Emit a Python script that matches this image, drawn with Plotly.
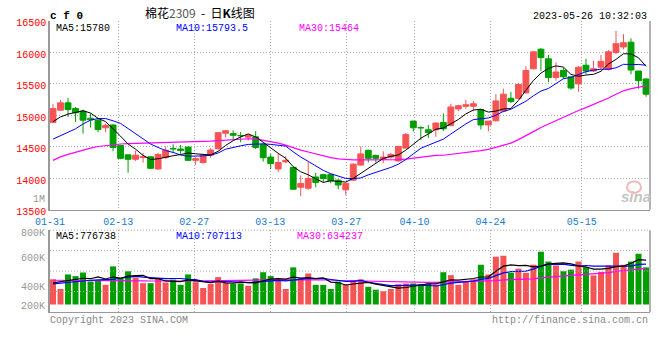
import plotly.graph_objects as go

# ---------------- data ----------------
# trading-day index 0..79  (2023-01-31 .. 2023-05-26)
opens = [14888, 15082, 15199, 15108, 15067, 14955, 14924, 14802, 14847, 14521,
         14373, 14302, 14330, 14342, 14149, 14327, 14475, 14465, 14496, 14286,
         14250, 14368, 14470, 14715, 14710, 14680, 14654, 14659, 14541, 14337,
         14149, 14261, 14174, 13858, 13843, 14021, 14057, 14062, 13970, 13817,
         13970, 14210, 14445, 14363, 14302, 14337, 14276, 14480, 14909, 14805,
         14771, 14771, 14888, 14837, 15102, 15143, 15143, 15092, 14847, 14914,
         15067, 15271, 15271, 15357, 15740, 16051, 15898, 15602, 15714, 15612,
         15500, 15796, 15704, 15765, 15730, 16000, 16087, 16163, 15704, 15577]
highs = [15184, 15245, 15276, 15133, 15092, 15031, 14949, 14868, 14858, 14531,
         14373, 14439, 14404, 14342, 14404, 14506, 14541, 14531, 14506, 14337,
         14385, 14480, 14735, 14766, 14761, 14735, 14705, 14750, 14557, 14388,
         14388, 14353, 14174, 14047, 14261, 14087, 14072, 14072, 13985, 13935,
         14240, 14506, 14455, 14378, 14429, 14404, 14516, 14720, 14909, 14827,
         14847, 14888, 15031, 15184, 15169, 15245, 15230, 15102, 14909, 15337,
         15424, 15373, 15516, 15781, 16010, 16071, 15959, 15842, 15755, 15612,
         15781, 15898, 15867, 15959, 16036, 16342, 16291, 16224, 15704, 15592]
lows = [14880, 15075, 14975, 14898, 14710, 14807, 14730, 14735, 14429, 14302,
        14087, 14276, 14250, 14149, 14133, 14312, 14404, 14390, 14276, 14210,
        14235, 14327, 14455, 14650, 14623, 14572, 14598, 14465, 14266, 14149,
        14098, 14240, 13817, 13715, 13817, 13858, 13934, 13919, 13827, 13730,
        13960, 14200, 14250, 14250, 14240, 14312, 14266, 14470, 14745, 14608,
        14643, 14659, 14750, 14827, 15067, 15102, 15067, 14776, 14745, 14903,
        15051, 15194, 15255, 15347, 15730, 15704, 15526, 15551, 15577, 15408,
        15373, 15653, 15689, 15730, 15714, 15975, 16051, 15653, 15424, 15296]
closes = [15108, 15199, 15092, 15041, 14924, 14929, 14776, 14837, 14490, 14317,
          14302, 14368, 14345, 14159, 14378, 14445, 14465, 14440, 14286, 14312,
          14370, 14450, 14725, 14756, 14684, 14674, 14684, 14490, 14327, 14235,
          14251, 14286, 13827, 13919, 13996, 13934, 13996, 13960, 13894, 13919,
          14225, 14388, 14317, 14317, 14337, 14378, 14506, 14694, 14802, 14800,
          14725, 14878, 14786, 15133, 15153, 15169, 15184, 14847, 14909, 15230,
          15337, 15220, 15490, 15714, 16010, 15918, 15602, 15689, 15612, 15434,
          15765, 15704, 15740, 15857, 16010, 16138, 16153, 15720, 15551, 15337]
volumes = [442, 272, 527, 498, 561, 403, 430, 345, 668, 459,
           583, 471, 374, 374, 459, 386, 437, 345, 527, 391,
           289, 362, 481, 379, 362, 369, 328, 459, 566, 498,
           425, 272, 651, 459, 544, 345, 345, 272, 403, 345,
           430, 442, 311, 260, 233, 272, 357, 369, 369, 357,
           369, 345, 566, 515, 345, 413, 442, 697, 527, 838,
           855, 556, 629, 556, 697, 923, 753, 685, 583, 612,
           753, 651, 510, 573, 685, 906, 697, 753, 889, 651]  # thousand lots

# moving-average values before enough in-window history exists
ma5_lead = [14900, 14975, 15020, 15043]
ma10_lead = [14623, 14674, 14725, 14786, 14863, 14924, 14949, 14949, 14914]
ma30_lead = [14285, 14340, 14380, 14415, 14449, 14480, 14505, 14520, 14535, 14545,
             14551, 14554, 14556, 14560, 14563, 14566, 14570, 14575, 14578, 14582,
             14585, 14590, 14600, 14608, 14615, 14620, 14628, 14625, 14605]
vma5_lead = [380, 400, 420, 440]
vma10_lead = [360, 375, 390, 405, 420, 425, 430, 432, 440]
vma30_lead = [425, 425, 425, 425, 426, 426, 425, 424, 422, 420,
              418, 416, 414, 412, 410, 410, 410, 410, 411, 412,
              413, 414, 415, 417, 419, 421, 424, 427, 430]

tick_idx = [0, 9, 19, 29, 39, 48, 58, 70]
tick_labels = ["01-31", "02-13", "02-27", "03-13", "03-27", "04-10", "04-24", "05-15"]
price_ticks = [13500, 14000, 14500, 15000, 15500, 16000, 16500]
price_legend = ["MA5:15780", "MA10:15793.5", "MA30:15464"]
vol_legend = ["MA5:776738", "MA10:707113", "MA30:634237"]
vol_labels = ["1M", "800K", "600K", "400K", "200K"]

# ---------------- helpers ----------------
RED = "#f65454"
GREEN = "#009e00"
MONO = "Liberation Mono, DejaVu Sans Mono, monospace"
W, H, ML, MR = 660, 360, 50, 10
n = len(closes)
idx = list(range(n))


def rolling(vals, k, lead):
    out = list(lead)
    for i in range(len(lead), len(vals)):
        out.append(sum(vals[i - k + 1:i + 1]) / k)
    return out


ma5 = rolling(closes, 5, ma5_lead)
ma10 = rolling(closes, 10, ma10_lead)
ma30 = rolling(closes, 30, ma30_lead)
vols = [v * 1000 for v in volumes]
vma5 = rolling(vols, 5, [v * 1000 for v in vma5_lead])
vma10 = rolling(vols, 10, [v * 1000 for v in vma10_lead])
vma30 = rolling(vols, 30, [v * 1000 for v in vma30_lead])

up = [c >= o for o, c in zip(opens, closes)]
colors = [RED if u else GREEN for u in up]

x0, x1 = -0.4, n - 0.47
# date labels are spread on an (n-1)-interval scale across the plot width
tick_pos = [x0 + k * (x1 - x0) / (n - 1) for k in tick_idx]

fig = go.Figure()

# wicks
for col, flag in ((RED, True), (GREEN, False)):
    wx, wy = [], []
    for i in idx:
        if up[i] == flag:
            wx += [i, i, None]
            wy += [lows[i], highs[i], None]
    fig.add_trace(go.Scatter(x=wx, y=wy, mode="lines", line=dict(color=col, width=1),
                             hoverinfo="skip", xaxis="x", yaxis="y"))

# bodies
fig.add_trace(go.Bar(x=idx, y=[abs(c - o) for o, c in zip(opens, closes)],
                     base=[min(o, c) for o, c in zip(opens, closes)], width=0.78,
                     marker=dict(color=colors, line=dict(color=colors, width=1)),
                     xaxis="x", yaxis="y"))

# price MAs
for vals, col in ((ma30, "#ff00ff"), (ma10, "#0000ff"), (ma5, "#000000")):
    fig.add_trace(go.Scatter(x=idx, y=vals, mode="lines",
                             line=dict(color=col, width=1.2 if col == "#ff00ff" else 1),
                             xaxis="x", yaxis="y"))

# volume
fig.add_trace(go.Bar(x=idx, y=vols, width=0.8, marker=dict(color=colors, line=dict(width=0)),
                     xaxis="x2", yaxis="y2"))
for vals, col in ((vma30, "#ff00ff"), (vma10, "#0000ff"), (vma5, "#000000")):
    fig.add_trace(go.Scatter(x=idx, y=vals, mode="lines", line=dict(color=col, width=1.2),
                             xaxis="x2", yaxis="y2"))

GRID = dict(showgrid=True, gridcolor="#a8a8a8", griddash="1px,2px", gridwidth=1)

main_top, main_bot = 18.5, 213.3
vol_top, vol_bot = 234.3, 318.7

fig.update_layout(
    width=W, height=H, margin=dict(l=ML, r=MR, t=0, b=0),
    paper_bgcolor="white", plot_bgcolor="white", showlegend=False, barmode="overlay",
    xaxis=dict(domain=[0, 1], range=[x0, x1], anchor="y", tickmode="array",
               tickvals=tick_pos, ticktext=tick_labels, ticks="", ticklabelstandoff=2,
               tickfont=dict(family=MONO, size=10, color="#1a7ccc"),
               showline=True, linecolor="#999", linewidth=1, zeroline=False, **GRID),
    yaxis=dict(domain=[1 - main_bot / H, 1 - main_top / H], range=[13500, 16500], anchor="x",
               tickmode="array", tickvals=price_ticks, ticktext=[str(v) for v in price_ticks],
               ticks="", ticklabelshift=2, tickfont=dict(family=MONO, size=10, color="#ff0000"),
               showline=True, linecolor="#999", linewidth=1.5, zeroline=False, **GRID),
    xaxis2=dict(domain=[0, 1], range=[x0, x1], anchor="y2", matches="x", tickmode="array",
                tickvals=tick_pos, showticklabels=False, ticks="",
                showline=True, linecolor="#999", linewidth=1, zeroline=False, **GRID),
    yaxis2=dict(domain=[1 - vol_bot / H, 1 - vol_top / H], range=[-131000, 1304000], anchor="x2",
                showticklabels=False, showgrid=False, ticks="",
                showline=True, linecolor="#999", linewidth=1.5, zeroline=False),
)

# borders and volume grid
shapes = [
    dict(type="line", xref="x domain", yref="y domain", x0=1, x1=1, y0=0, y1=1,
         line=dict(color="#999", width=1.5)),
    dict(type="line", xref="x2 domain", yref="y2 domain", x0=1, x1=1, y0=0, y1=1,
         line=dict(color="#999", width=1.5)),
]
for f in (0.25, 0.5, 0.75, 1.0):
    shapes.append(dict(type="line", xref="x2 domain", yref="y2 domain", x0=0, x1=1, y0=f, y1=f,
                       line=dict(color="#a8a8a8", width=1, dash="1px,2px")))
# sina watermark eye
shapes.append(dict(type="circle", xref="paper", yref="paper",
                   x0=(627 - ML) / 600, x1=(641 - ML) / 600, y0=1 - 196 / H, y1=1 - 184 / H,
                   line=dict(color="#f3b8b8", width=2)))
fig.update_layout(shapes=shapes)

DY = 3  # glyph-centre correction for annotation boxes


def ann(text, x, y, color="#000", size=10, xanchor="left", family=MONO, **kw):
    fig.add_annotation(text=text, x=(x - ML) / 600, y=1 - (y + DY) / H, xref="paper", yref="paper",
                       xanchor=xanchor, yanchor="middle", showarrow=False,
                       font=dict(family=family, size=size, color=color), **kw)


ann("<b>c f 0</b>", 48, 10.5, size=11)
ann('棉花<span style="color:#555">2309</span>  -  日<b>K</b>线图', 200, 6.5, size=12,
    xanchor="center", family="Noto Sans CJK SC")
ann("2023-05-26 10:32:03", 649, 10.5, xanchor="right")

for txt, xx, col in zip(price_legend, (54, 174, 297), ("#000", "#0000ff", "#ff00ff")):
    ann(txt, xx, 23, color=col)
for txt, xx, col in zip(vol_legend, (54, 174, 295), ("#000", "#0000ff", "#ff00ff")):
    ann(txt, xx, 238.3, color=col)
for txt, yy in zip(vol_labels, (200, 235, 261, 290.3, 310.3)):
    ann(txt, 47, yy, color="#999", xanchor="right")

ann("Copyright 2023 SINA.COM", 48, 325, color="#888")
ann("http://finance.sina.com.cn", 650, 325, color="#888", xanchor="right")
ann("<b><i>sina</i></b>", 636, 197, color="#c4c4c4", size=15, xanchor="center",
    family="Liberation Sans, Arial")

fig.write_html("out.html", config={"displayModeBar": False},
               post_script="document.body.style.margin='0';")
